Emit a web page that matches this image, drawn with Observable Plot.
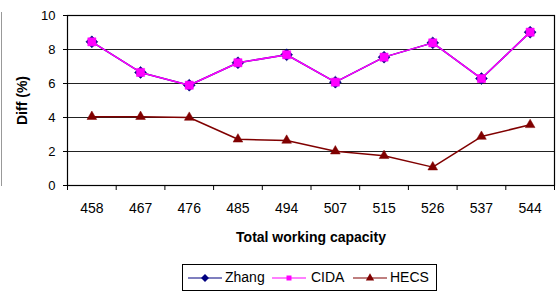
<!DOCTYPE html>
<html>
<head>
<meta charset="utf-8">
<script src="https://cdn.jsdelivr.net/npm/d3@7"></script>
<script src="https://cdn.jsdelivr.net/npm/@observablehq/plot@0.6"></script>
<style>
  html, body { margin: 0; padding: 0; background: #fff; }
  #wrap { position: relative; width: 556px; height: 292px; font-family: "Liberation Sans", Arial, sans-serif; }
  #edge { position: absolute; left: 1px; top: 12px; width: 1px; height: 174px; background: #999; }
  #legend { position: absolute; left: 182px; top: 264px; width: 255px; height: 27px; border: 1px solid #000; box-sizing: border-box; font-size: 14px; color: #000; }
  #legend .sym { position: absolute; top: 6px; display: block; }
  #legend .lab { position: absolute; top: 4px; line-height: 16px; white-space: nowrap; }
</style>
</head>
<body>
<div id="wrap">
  <div id="chart"></div>
  <div id="edge"></div>
  <div id="legend"></div>
</div>
<script>
const categories = ["458","467","476","485","494","507","515","526","537","544"];
const zhang = [8.45, 6.65, 5.9, 7.22, 7.69, 6.08, 7.55, 8.39, 6.29, 9.02];
const cida  = [8.45, 6.65, 5.9, 7.22, 7.69, 6.08, 7.55, 8.39, 6.29, 9.02];
const hecs  = [4.05, 4.05, 4.0, 2.72, 2.65, 2.02, 1.75, 1.08, 2.88, 3.57];
const yTicks = [0, 2, 4, 6, 8, 10];
const seriesNames = ["Zhang", "CIDA", "HECS"];
const seriesColors = ["#000080", "#FF00FF", "#800000"];

const rows = (vals) => vals.map((v, i) => ({x: i + 0.5, y: v, cat: categories[i]}));
const dZ = rows(zhang), dC = rows(cida), dH = rows(hecs);

const font = "Liberation Sans, Arial, sans-serif";

const chart = Plot.plot({
  width: 556,
  height: 292,
  marginTop: 15,
  marginBottom: 107,
  marginLeft: 67,
  marginRight: 2,
  style: {fontFamily: font, background: "#fff", color: "#000"},
  x: {domain: [0, categories.length], axis: null},
  y: {domain: [0, 10], axis: null},
  marks: [
    Plot.ruleY([2, 4, 6, 8], {stroke: "#222", strokeWidth: 1}),
    Plot.frame({stroke: "#000", strokeWidth: 1.2}),
    Plot.axisY({ticks: yTicks, tickSize: 4, tickPadding: 8, fontSize: 13, label: null, stroke: "#000", strokeOpacity: 1}),
    Plot.axisX({ticks: d3.range(0, categories.length + 1), tickSize: 5, tickFormat: () => "", label: null, strokeOpacity: 1}),
    Plot.axisX({ticks: d3.range(categories.length).map(i => i + 0.5), tickSize: 0, tickPadding: 18, fontSize: 14,
      tickFormat: (d) => categories[Math.round(d - 0.5)], label: null}),
    Plot.text(["Diff (%)"], {frameAnchor: "left", dx: -45, rotate: -90, fontWeight: "bold", fontSize: 14, textAnchor: "middle", lineAnchor: "middle"}),
    Plot.text(["Total working capacity"], {frameAnchor: "bottom", dy: 52, fontWeight: "bold", fontSize: 14, textAnchor: "middle", lineAnchor: "middle"}),
    Plot.line(dZ, {x: "x", y: "y", stroke: seriesColors[0], strokeWidth: 1.5}),
    Plot.dot(dZ, {x: "x", y: "y", symbol: "diamond2", r: 5.4, fill: seriesColors[0], stroke: seriesColors[0], strokeWidth: 0.5}),
    Plot.line(dC, {x: "x", y: "y", stroke: seriesColors[1], strokeWidth: 1.5}),
    Plot.dot(dC, {x: "x", y: "y", symbol: "square", r: 4.6, fill: seriesColors[1], stroke: seriesColors[1], strokeWidth: 0.5}),
    Plot.line(dH, {x: "x", y: "y", stroke: seriesColors[2], strokeWidth: 1.5}),
    Plot.dot(dH, {x: "x", y: "y", symbol: "triangle", r: 3.6, fill: seriesColors[2], stroke: seriesColors[2], strokeWidth: 0.5})
  ]
});
document.getElementById("chart").appendChild(chart);

// Legend
const symbols = [d3.symbolDiamond2, d3.symbolSquare, d3.symbolTriangle];
const symSizes = [40, 25, 30];
const lineLeft = [5, 89, 170];
const textLeft = [42, 128, 207];
const leg = document.getElementById("legend");
seriesNames.forEach((name, i) => {
  const w = 34, h = 14;
  const svg = d3.create("svg").attr("class", "sym").attr("width", w).attr("height", h)
    .style("left", lineLeft[i] + "px");
  svg.append("line").attr("x1", 0).attr("x2", w).attr("y1", h / 2).attr("y2", h / 2)
    .attr("stroke", seriesColors[i]).attr("stroke-width", 1.2);
  svg.append("path").attr("d", d3.symbol(symbols[i], symSizes[i])())
    .attr("transform", `translate(${w / 2},${h / 2})`).attr("fill", seriesColors[i]);
  leg.appendChild(svg.node());
  const t = document.createElement("span");
  t.className = "lab";
  t.textContent = name;
  t.style.left = textLeft[i] + "px";
  leg.appendChild(t);
});
</script>
</body>
</html>
